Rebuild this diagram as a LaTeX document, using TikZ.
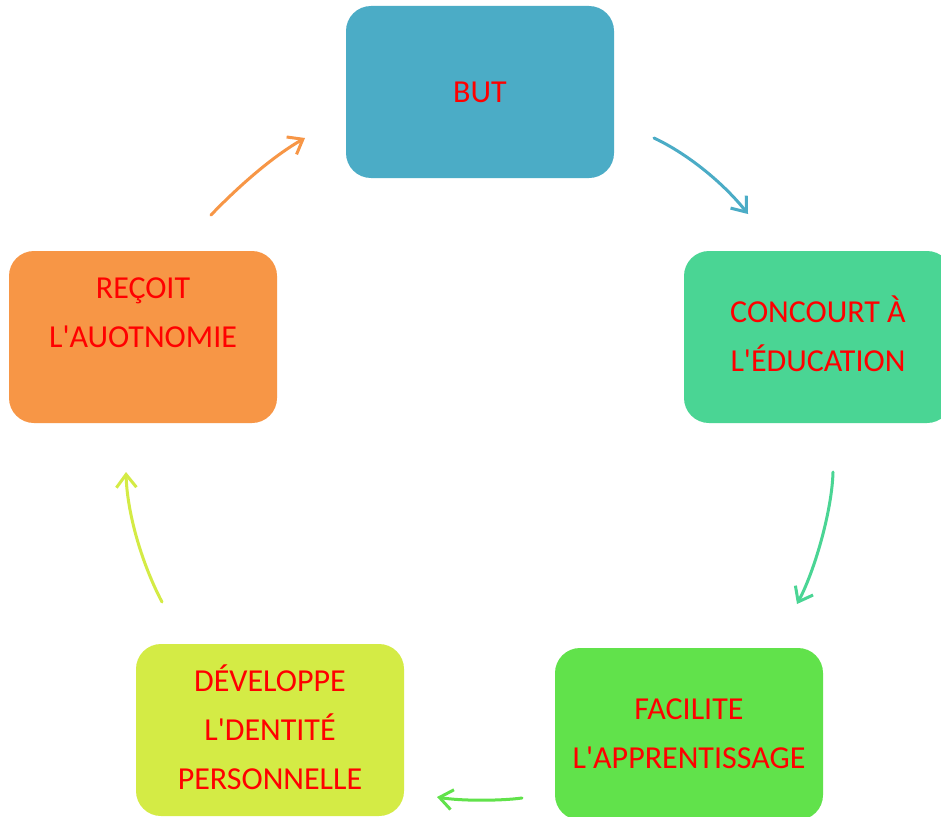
\documentclass[tikz,border=0pt]{standalone}
\usepackage{fontspec}
\setmainfont{Carlito}
\usetikzlibrary{arrows.meta}
\definecolor{cBut}{HTML}{4BACC6}
\definecolor{cCon}{HTML}{4AD594}
\definecolor{cFac}{HTML}{61E24B}
\definecolor{cDev}{HTML}{D4EB45}
\definecolor{cRec}{HTML}{F79646}
\definecolor{cTxt}{HTML}{FF0000}
\newcommand\lnstrut{\rule[-14pt]{0pt}{48pt}}
\newcommand\apos{\textquotesingle}
\tikzset{
  boxnode/.style={draw=none, fill=#1, rounded corners=25pt, minimum width=268pt, minimum height=172pt,
    inner sep=0pt, align=center, text=cTxt, font=\fontsize{32pt}{49pt}\selectfont},
  arr/.style={draw=#1, line width=3pt, line cap=round, -{Straight Barb[length=13pt,width=20pt,line width=3pt]}}
}
\begin{document}
\begin{tikzpicture}[x=1pt,y=-1pt]
\useasboundingbox (0,0) rectangle (941,816);
\clip (0,0) rectangle (941,816);
\fill[white] (0,0) rectangle (941,816);
\node[boxnode=cBut] (but) at (480,92) {\lnstrut BUT};
\node[boxnode=cCon] (con) at (818,337) {\lnstrut CONCOURT À\\\lnstrut L\apos ÉDUCATION};
\node[boxnode=cFac] (fac) at (689,734) {\lnstrut FACILITE\\\lnstrut L\apos APPRENTISSAGE};
\node[boxnode=cDev] (dev) at (270,730) {\lnstrut DÉVELOPPE\\\lnstrut L\apos DENTITÉ\\\lnstrut PERSONNELLE};
\node[boxnode=cRec] (rec) at (143,337) {\lnstrut REÇOIT\\\lnstrut L\apos AUOTNOMIE\\\lnstrut};
\coordinate (a1s) at (654,138); \coordinate (a1e) at (748,214);
\coordinate (a2s) at (833,472); \coordinate (a2e) at (797,604);
\coordinate (a3s) at (522,798); \coordinate (a3e) at (437,797);
\coordinate (a4s) at (162,602); \coordinate (a4e) at (126,472);
\coordinate (a5s) at (211,215); \coordinate (a5e) at (305,138);
\draw[arr=cBut] (a1s) .. controls (690,155) and (725,185) .. (a1e);
\draw[arr=cCon] (a2s) .. controls (832,510) and (815,570) .. (a2e);
\draw[arr=cFac] (a3s) .. controls (500,801) and (460,801) .. (a3e);
\draw[arr=cDev] (a4s) .. controls (140,560) and (127,510) .. (a4e);
\draw[arr=cRec] (a5s) .. controls (235,190) and (270,158) .. (a5e);
\end{tikzpicture}
\end{document}
